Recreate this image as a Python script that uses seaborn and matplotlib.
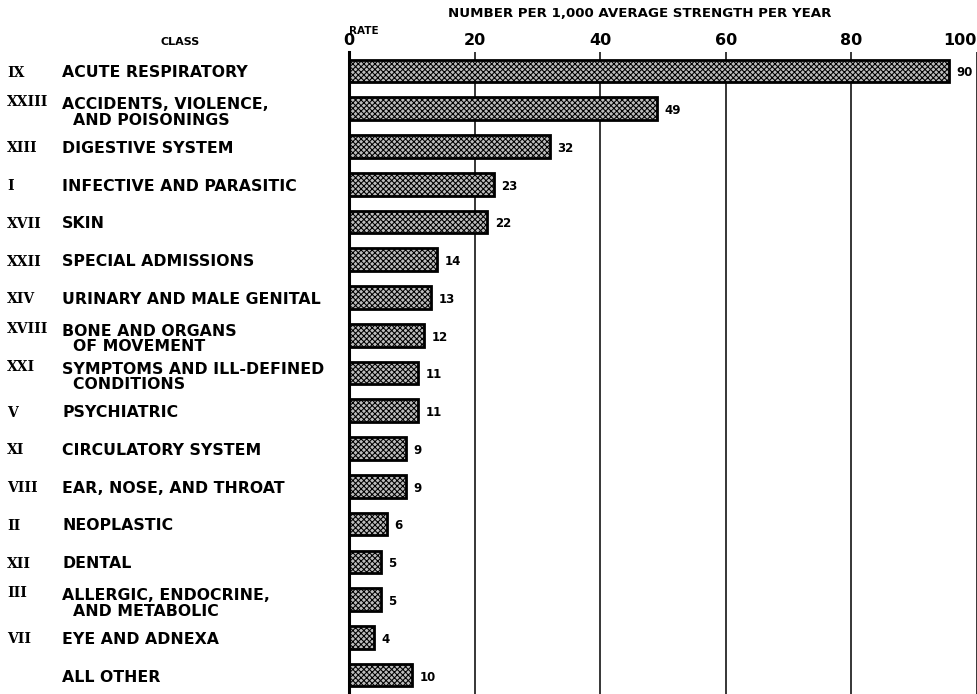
"""Hospital admission rates by disease class, per 1,000 average strength."""

import matplotlib

matplotlib.use("Agg")
import matplotlib.pyplot as plt
import pandas as pd
import seaborn as sns

numerals = ["IX", "XXIII", "XIII", "I", "XVII", "XXII", "XIV", "XVIII", "XXI",
            "V", "XI", "VIII", "II", "XII", "III", "VII", ""]
classes = [
    "ACUTE RESPIRATORY",
    "ACCIDENTS, VIOLENCE,\n  AND POISONINGS",
    "DIGESTIVE SYSTEM",
    "INFECTIVE AND PARASITIC",
    "SKIN",
    "SPECIAL ADMISSIONS",
    "URINARY AND MALE GENITAL",
    "BONE AND ORGANS\n  OF MOVEMENT",
    "SYMPTOMS AND ILL-DEFINED\n  CONDITIONS",
    "PSYCHIATRIC",
    "CIRCULATORY SYSTEM",
    "EAR, NOSE, AND THROAT",
    "NEOPLASTIC",
    "DENTAL",
    "ALLERGIC, ENDOCRINE,\n  AND METABOLIC",
    "EYE AND ADNEXA",
    "ALL OTHER",
]
# printed rates
rates = [90, 49, 32, 23, 22, 14, 13, 12, 11, 11, 9, 9, 6, 5, 5, 4, 10]
# bar lengths as drawn in the original (top bar is drawn longer than 90)
bar_lengths = [95.5, 49, 32, 23, 22, 14, 13, 12, 11, 11, 9, 9, 6, 5, 5, 4, 10]
x_ticks = [0, 20, 40, 60, 80, 100]

sns.set_theme(style="white")
plt.rcParams["font.family"] = ["DejaVu Sans"]
plt.rcParams["text.color"] = "black"
plt.rcParams["xtick.color"] = "black"
plt.rcParams["hatch.linewidth"] = 0.75

frame = pd.DataFrame({"cls": classes, "length": bar_lengths})

fig = plt.figure(figsize=(9.78, 6.94), dpi=100)
ax = fig.add_axes([0.357, 0.0, 0.642, 0.925])

for x in x_ticks[1:]:
    ax.axvline(x, color="black", linewidth=1.1, zorder=0)

sns.barplot(data=frame, x="length", y="cls", orient="h", color="#bcbcbc",
            width=0.6, edgecolor="black", linewidth=2.0, saturation=1,
            ax=ax, zorder=2)
for patch in ax.patches:
    patch.set_hatch("xxxxxx")

ax.set_xlim(0, 100)
ax.set_ylim(16.5, -0.5)
ax.xaxis.tick_top()
ax.set_xticks(x_ticks)
ax.set_xticklabels([str(t) for t in x_ticks], fontsize=11.5, fontweight="bold")
ax.get_xticklabels()[-1].set_horizontalalignment("right")
ax.tick_params(axis="x", length=0, pad=3)
ax.tick_params(axis="y", length=0)
ax.set_yticklabels([])
ax.set_xlabel("")
ax.set_ylabel("")
for side in ["top", "right", "bottom"]:
    ax.spines[side].set_visible(False)
ax.spines["left"].set_linewidth(2.2)
ax.spines["left"].set_color("black")

trans = ax.get_yaxis_transform()
for i, (num, name, rate, length) in enumerate(zip(numerals, classes, rates, bar_lengths)):
    two_line = "\n" in name
    name_y = i + 0.1 if two_line else i + 0.05
    num_y = i - 0.17 if two_line else i + 0.05
    ax.text(-0.457, name_y, name, transform=trans, ha="left", va="center",
            fontsize=11.3, fontweight="bold", linespacing=1.05)
    ax.text(-0.545, num_y, num, transform=trans, ha="left", va="center",
            fontsize=10, fontweight="heavy", family=["DejaVu Serif"])
    ax.text(length + 1.2, i + 0.05, str(rate), ha="left", va="center",
            fontsize=8.5, fontweight="bold")

fig.text(0.654, 0.98, "NUMBER PER 1,000 AVERAGE STRENGTH PER YEAR",
         ha="center", va="center", fontsize=9.6, fontweight="bold")
fig.text(0.184, 0.94, "CLASS", ha="center", va="center", fontsize=8,
         fontweight="bold")
fig.text(0.357, 0.956, "RATE", ha="left", va="center", fontsize=7.5,
         fontweight="bold")

fig.savefig("out.png", dpi=100)
